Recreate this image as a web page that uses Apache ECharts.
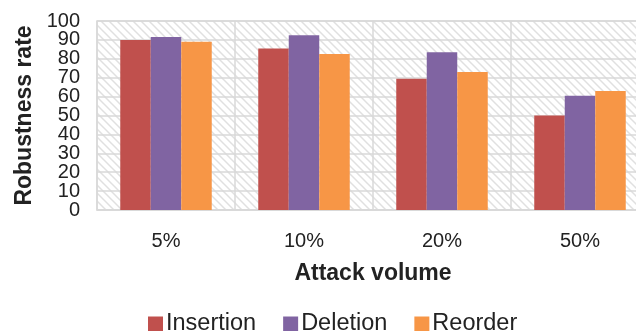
<!DOCTYPE html>
<html>
<head>
<meta charset="utf-8">
<script src="https://cdn.jsdelivr.net/npm/echarts@6/dist/echarts.min.js"></script>
<style>
  html, body { margin: 0; padding: 0; background: #fff; }
  #chart { width: 636px; height: 331px; }
</style>
</head>
<body>
<div id="chart"></div>
<script>
// Attack volumes on the x axis
const categories = ['5%', '10%', '20%', '50%'];

// Robustness rate (%) per attack type
const insertion = [90, 85.5, 69.5, 50];
const deletion = [91.5, 92.5, 83.5, 60.5];
const reorder = [89, 82.5, 73, 63];

const seriesNames = ['Insertion', 'Deletion', 'Reorder'];
const colors = ['#c0504d', '#8064a2', '#f79646'];

// Light diagonal hatch used as the plot background
function makeHatch() {
  const size = 8;
  const c = document.createElement('canvas');
  c.width = size; c.height = size;
  const ctx = c.getContext('2d');
  ctx.fillStyle = '#ffffff';
  ctx.fillRect(0, 0, size, size);
  ctx.strokeStyle = '#e0e0e0';
  ctx.lineWidth = 1.5;
  ctx.beginPath();
  ctx.moveTo(-2, -2); ctx.lineTo(size + 2, size + 2);
  ctx.moveTo(-2, size - 2); ctx.lineTo(2, size + 2);
  ctx.moveTo(size - 2, -2); ctx.lineTo(size + 2, 2);
  ctx.stroke();
  return c;
}

const chart = echarts.init(document.getElementById('chart'), null, { renderer: 'canvas' });
const font = 'Liberation Sans, Arial, Helvetica, sans-serif';
const textColor = '#222222';

// The tick labels sit very close together, so the even and odd ticks are
// split over two overlaid value axes to keep every label visible.
function tickLabel(even) {
  return {
    margin: 17,
    fontSize: 20,
    color: textColor,
    fontFamily: font,
    showMinLabel: true,
    showMaxLabel: true,
    formatter: v => ((Math.round(v / 10) % 2 === 0) === even ? String(v) : '')
  };
}

chart.setOption({
  animation: false,
  textStyle: { fontFamily: font },
  grid: {
    left: 97, top: 21, width: 552, height: 189,
    outerBoundsMode: 'none',
    containLabel: false,
    show: true,
    backgroundColor: { image: makeHatch(), repeat: 'repeat' },
    borderColor: '#d9d9d9',
    borderWidth: 1.5
  },
  legend: {
    data: seriesNames,
    left: 143,
    top: 307,
    icon: 'rect',
    itemWidth: 15,
    itemHeight: 15,
    itemGap: 27,
    textStyle: { fontSize: 23.5, color: textColor, fontFamily: font, padding: [0, 0, 0, -2] }
  },
  xAxis: {
    type: 'category',
    data: categories,
    name: 'Attack volume',
    nameLocation: 'middle',
    nameGap: 52,
    nameTextStyle: { fontSize: 23, fontWeight: 'bold', color: textColor, fontFamily: font },
    axisLine: { lineStyle: { color: '#d9d9d9', width: 1.5 } },
    axisTick: { show: false },
    axisLabel: { fontSize: 20, color: textColor, margin: 21, fontFamily: font },
    splitLine: { show: true, lineStyle: { color: '#d9d9d9', width: 1.5 } }
  },
  yAxis: [
    {
      type: 'value',
      position: 'left',
      min: 0, max: 100, interval: 10,
      name: 'Robustness rate',
      nameLocation: 'middle',
      nameGap: 60,
      nameTextStyle: { fontSize: 23, fontWeight: 'bold', color: textColor, fontFamily: font },
      axisLine: { show: false },
      axisTick: { show: false },
      axisLabel: tickLabel(true),
      splitLine: { lineStyle: { color: '#d9d9d9', width: 1.5 } }
    },
    {
      type: 'value',
      position: 'left',
      offset: 0,
      min: 0, max: 100, interval: 10,
      axisLine: { show: false },
      axisTick: { show: false },
      axisLabel: tickLabel(false),
      splitLine: { show: false }
    }
  ],
  series: [insertion, deletion, reorder].map((vals, i) => ({
    name: seriesNames[i],
    type: 'bar',
    data: vals,
    barGap: '0%',
    barCategoryGap: '33.7%',
    itemStyle: { color: colors[i] }
  }))
});
</script>
</body>
</html>
